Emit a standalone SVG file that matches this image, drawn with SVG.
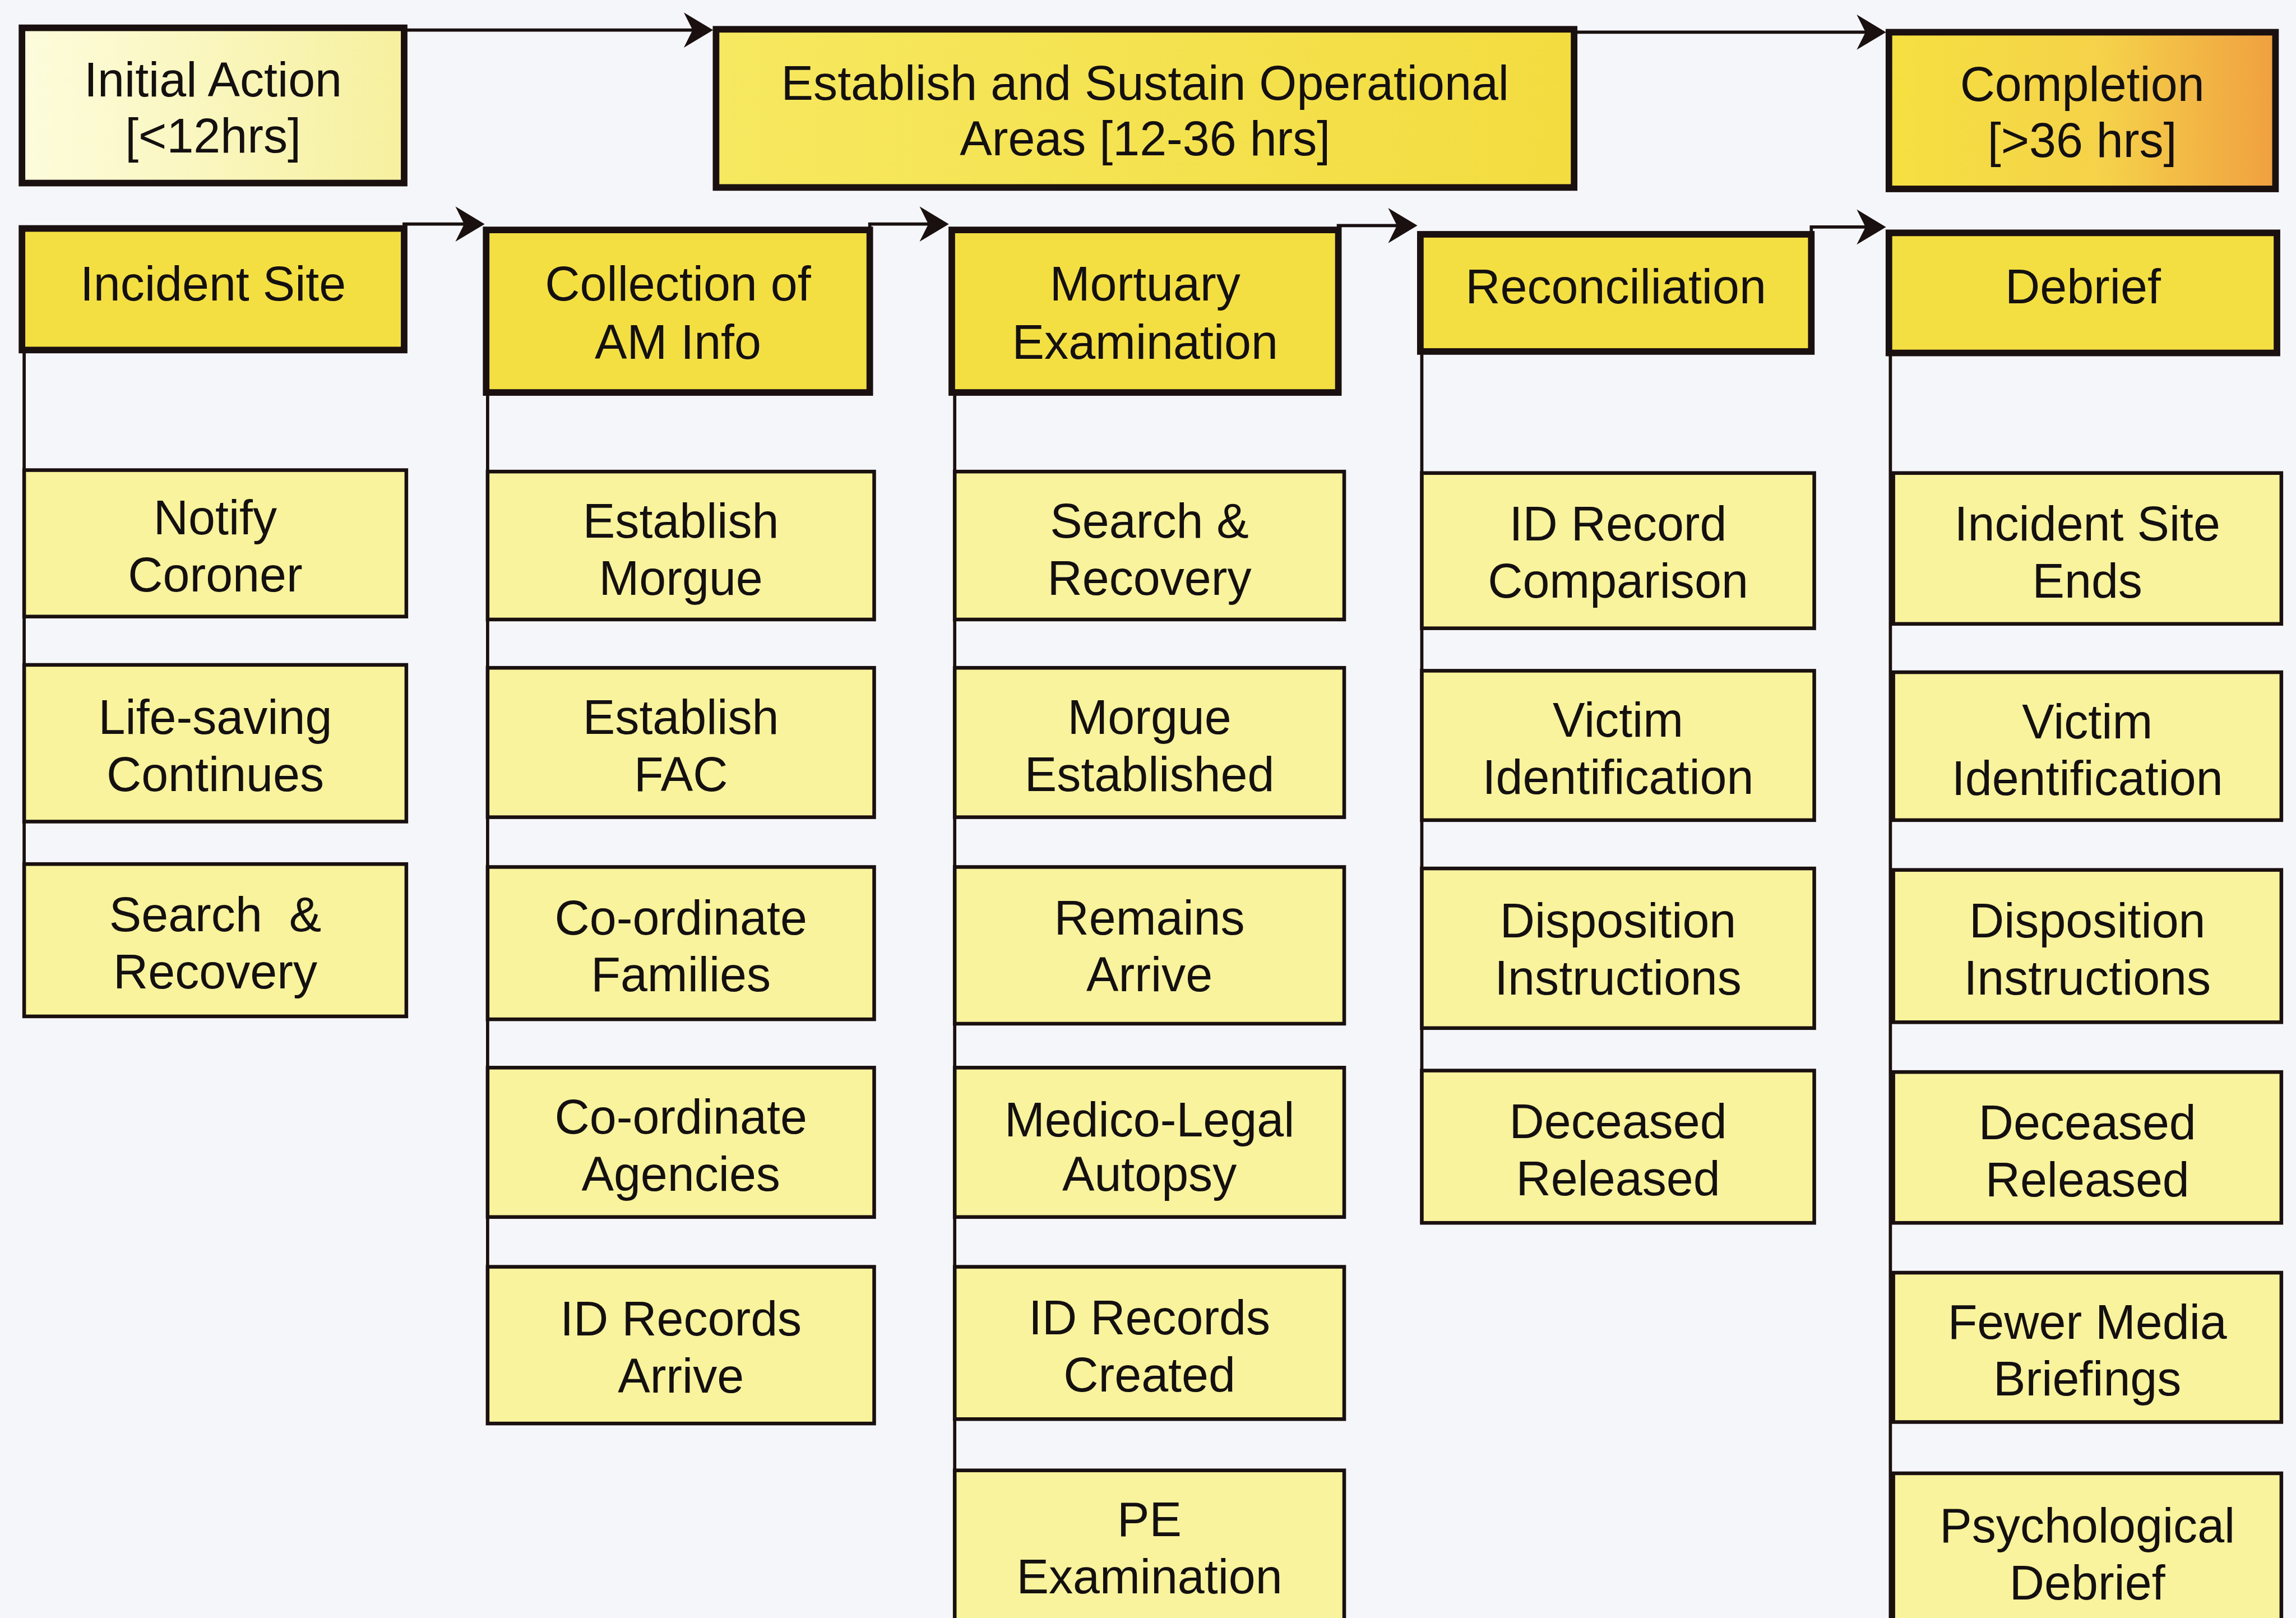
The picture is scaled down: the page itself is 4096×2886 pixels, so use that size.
<svg xmlns="http://www.w3.org/2000/svg" width="4096" height="2886" viewBox="0 0 4096 2886">
<defs>
<linearGradient id="gInit" x1="0" y1="0" x2="1" y2="0">
<stop offset="0" stop-color="#fdfcdc"/><stop offset="1" stop-color="#f6f09e"/>
</linearGradient>
<linearGradient id="gEst" x1="0" y1="0" x2="1" y2="0">
<stop offset="0" stop-color="#f6e860"/><stop offset="1" stop-color="#f3dc40"/>
</linearGradient>
<linearGradient id="gComp" x1="0" y1="0" x2="1" y2="0">
<stop offset="0" stop-color="#f5e040"/><stop offset="0.55" stop-color="#f5d24a"/><stop offset="1" stop-color="#f0a040"/>
</linearGradient>
<path id="ah" d="M0,0 L-20,-12 L-14,0 L-20,12 Z" fill="#1a1010"/>
<style>
.hdr{stroke:#1a1010;stroke-width:4.5;}
.hy{fill:#f4df42;}
.ch{fill:#f8f39c;stroke:#1a1010;stroke-width:2.5;}
.t{font-family:"Liberation Sans",Arial,sans-serif;font-size:33px;fill:#141010;text-anchor:middle;}
.ln{stroke:#1a1010;stroke-width:2.2;fill:none;}
</style>
</defs>
<rect width="4096" height="2886" fill="#f5f6fa"/>
<g transform="scale(2.61224)">
<g id="connectors">
<line class="ln" x1="277" y1="20.5" x2="474" y2="20.5"/>
<use href="#ah" transform="translate(487,20.5)"/>
<line class="ln" x1="1076" y1="22" x2="1275" y2="22"/>
<use href="#ah" transform="translate(1288,22)"/>
<path class="ln" d="M276,156 V153 H318"/>
<use href="#ah" transform="translate(331,153)"/>
<path class="ln" d="M594,157 V153 H635"/>
<use href="#ah" transform="translate(648,153)"/>
<path class="ln" d="M914,157 V154 H955"/>
<use href="#ah" transform="translate(968,154)"/>
<path class="ln" d="M1237,160 V155 H1275"/>
<use href="#ah" transform="translate(1288,155)"/>
<line class="ln" x1="16.5" y1="241" x2="16.5" y2="694"/>
<line class="ln" x1="333" y1="270" x2="333" y2="972"/>
<line class="ln" x1="652" y1="270" x2="652" y2="1105"/>
<line class="ln" x1="971" y1="242" x2="971" y2="835"/>
<line class="ln" x1="1291" y1="243" x2="1291" y2="1105"/>
</g>
<g id="initial-action"><rect class="hdr" x="15" y="19" width="261" height="106" fill="url(#gInit)"/><text class="t" x="145.5" y="66">Initial Action</text><text class="t" x="145.5" y="104">[&lt;12hrs]</text></g>
<g id="establish"><rect class="hdr" x="489" y="20" width="586" height="108" fill="url(#gEst)"/><text class="t" x="782" y="68">Establish and Sustain Operational</text><text class="t" x="782" y="106">Areas [12-36 hrs]</text></g>
<g id="completion"><rect class="hdr" x="1290" y="22" width="264" height="107" fill="url(#gComp)"/><text class="t" x="1422" y="69">Completion</text><text class="t" x="1422" y="107">[&gt;36 hrs]</text></g>
<g id="incident-site"><rect class="hdr hy" x="15" y="156" width="261" height="83"/><text class="t" x="145.5" y="205">Incident Site</text></g>
<g id="collection"><rect class="hdr hy" x="332" y="157" width="262" height="111"/><text class="t" x="463" y="205">Collection of</text><text class="t" x="463" y="245">AM Info</text></g>
<g id="mortuary"><rect class="hdr hy" x="650" y="157" width="264" height="111"/><text class="t" x="782" y="205">Mortuary</text><text class="t" x="782" y="245">Examination</text></g>
<g id="reconciliation"><rect class="hdr hy" x="970" y="160" width="267" height="80"/><text class="t" x="1103.5" y="207">Reconciliation</text></g>
<g id="debrief"><rect class="hdr hy" x="1290" y="159" width="265" height="82"/><text class="t" x="1422.5" y="207">Debrief</text></g>

<g id="c1-notify"><rect class="ch" x="16.5" y="321" width="261" height="100"/><text class="t" x="147" y="365">Notify</text><text class="t" x="147" y="404">Coroner</text></g>
<g id="c1-lifesaving"><rect class="ch" x="16.5" y="454" width="261" height="107"/><text class="t" x="147" y="501">Life-saving</text><text class="t" x="147" y="540">Continues</text></g>
<g id="c1-search"><rect class="ch" x="16.5" y="590" width="261" height="104"/><text class="t" x="147" y="636" xml:space="preserve">Search  &amp;</text><text class="t" x="147" y="675">Recovery</text></g>

<g id="c2-morgue"><rect class="ch" x="333" y="322" width="264" height="101"/><text class="t" x="465" y="367">Establish</text><text class="t" x="465" y="406">Morgue</text></g>
<g id="c2-fac"><rect class="ch" x="333" y="456" width="264" height="102"/><text class="t" x="465" y="501">Establish</text><text class="t" x="465" y="540">FAC</text></g>
<g id="c2-families"><rect class="ch" x="333" y="592" width="264" height="104"/><text class="t" x="465" y="638">Co-ordinate</text><text class="t" x="465" y="677">Families</text></g>
<g id="c2-agencies"><rect class="ch" x="333" y="729" width="264" height="102"/><text class="t" x="465" y="774">Co-ordinate</text><text class="t" x="465" y="813">Agencies</text></g>
<g id="c2-idrecords"><rect class="ch" x="333" y="865" width="264" height="107"/><text class="t" x="465" y="912">ID Records</text><text class="t" x="465" y="951">Arrive</text></g>

<g id="c3-search"><rect class="ch" x="652" y="322" width="266" height="101"/><text class="t" x="785" y="367">Search &amp;</text><text class="t" x="785" y="406">Recovery</text></g>
<g id="c3-morgue"><rect class="ch" x="652" y="456" width="266" height="102"/><text class="t" x="785" y="501">Morgue</text><text class="t" x="785" y="540">Established</text></g>
<g id="c3-remains"><rect class="ch" x="652" y="592" width="266" height="107"/><text class="t" x="785" y="638">Remains</text><text class="t" x="785" y="677">Arrive</text></g>
<g id="c3-autopsy"><rect class="ch" x="652" y="729" width="266" height="102"/><text class="t" x="785" y="776">Medico-Legal</text><text class="t" x="785" y="813">Autopsy</text></g>
<g id="c3-idrecords"><rect class="ch" x="652" y="865" width="266" height="104"/><text class="t" x="785" y="911">ID Records</text><text class="t" x="785" y="950">Created</text></g>
<g id="c3-pe"><rect class="ch" x="652" y="1004" width="266" height="111"/><text class="t" x="785" y="1049">PE</text><text class="t" x="785" y="1088">Examination</text></g>

<g id="c4-comparison"><rect class="ch" x="971" y="323" width="268" height="106"/><text class="t" x="1105" y="369">ID Record</text><text class="t" x="1105" y="408">Comparison</text></g>
<g id="c4-victim"><rect class="ch" x="971" y="458" width="268" height="102"/><text class="t" x="1105" y="503">Victim</text><text class="t" x="1105" y="542">Identification</text></g>
<g id="c4-disposition"><rect class="ch" x="971" y="593" width="268" height="109"/><text class="t" x="1105" y="640">Disposition</text><text class="t" x="1105" y="679">Instructions</text></g>
<g id="c4-deceased"><rect class="ch" x="971" y="731" width="268" height="104"/><text class="t" x="1105" y="777">Deceased</text><text class="t" x="1105" y="816">Released</text></g>

<g id="c5-incident"><rect class="ch" x="1293" y="323" width="265" height="103"/><text class="t" x="1425.5" y="369">Incident Site</text><text class="t" x="1425.5" y="408">Ends</text></g>
<g id="c5-victim"><rect class="ch" x="1293" y="459" width="265" height="101"/><text class="t" x="1425.5" y="504">Victim</text><text class="t" x="1425.5" y="543">Identification</text></g>
<g id="c5-disposition"><rect class="ch" x="1293" y="594" width="265" height="104"/><text class="t" x="1425.5" y="640">Disposition</text><text class="t" x="1425.5" y="679">Instructions</text></g>
<g id="c5-deceased"><rect class="ch" x="1293" y="732" width="265" height="103"/><text class="t" x="1425.5" y="778">Deceased</text><text class="t" x="1425.5" y="817">Released</text></g>
<g id="c5-media"><rect class="ch" x="1293" y="869" width="265" height="102"/><text class="t" x="1425.5" y="914">Fewer Media</text><text class="t" x="1425.5" y="953">Briefings</text></g>
<g id="c5-psych"><rect class="ch" x="1293" y="1006" width="265" height="109"/><text class="t" x="1425.5" y="1053">Psychological</text><text class="t" x="1425.5" y="1092">Debrief</text></g>
</g>
</svg>
